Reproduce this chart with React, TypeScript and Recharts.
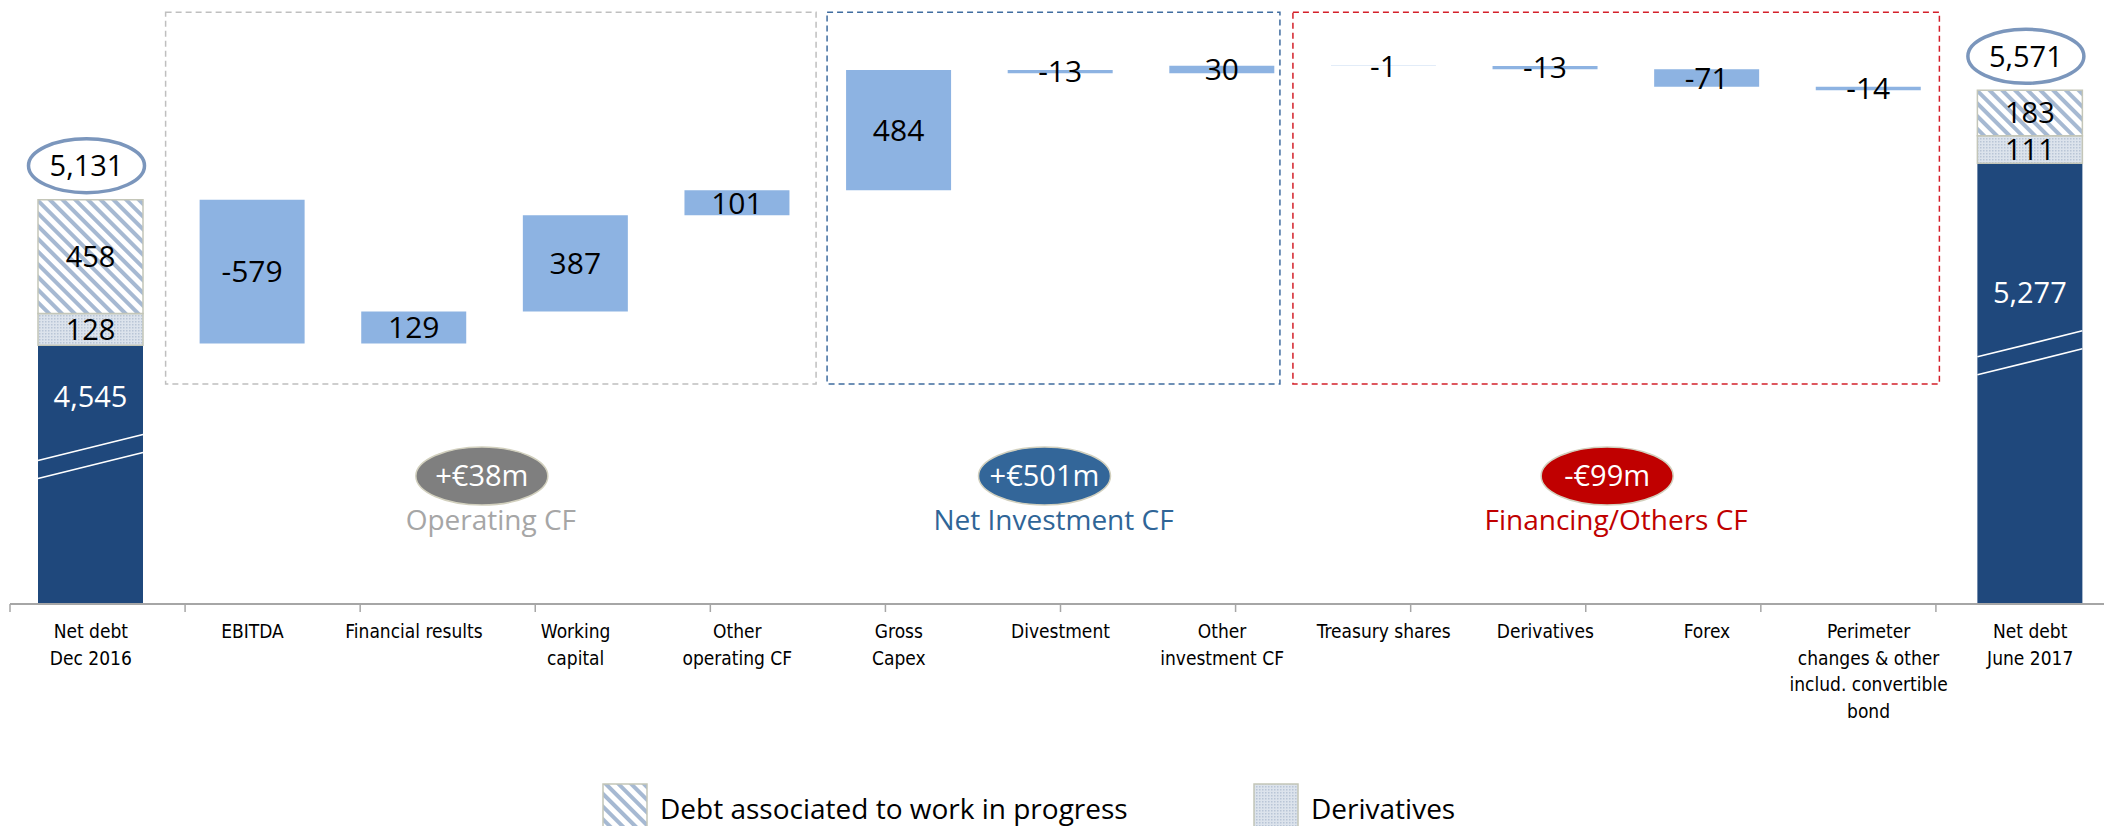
import React from 'react';
import { BarChart, Bar, XAxis, YAxis, ReferenceArea, LabelList, Legend } from 'recharts';

// ---------- data ----------
const categories = [
  'Net debt\nDec 2016',
  'EBITDA',
  'Financial results',
  'Working\ncapital',
  'Other\noperating CF',
  'Gross\nCapex',
  'Divestment',
  'Other\ninvestment CF',
  'Treasury shares',
  'Derivatives',
  'Forex',
  'Perimeter\nchanges & other\ninclud. convertible\nbond',
  'Net debt\nJune 2017',
];
const changes = [null, -579, 129, 387, 101, 484, -13, 30, -1, -13, -71, -14, null];
const coreDebt = [4545, null, null, null, null, null, null, null, null, null, null, null, 5277];
const derivativesDebt = [128, null, null, null, null, null, null, null, null, null, null, null, 111];
const wipDebt = [458, null, null, null, null, null, null, null, null, null, null, null, 183];
const totals = [5131, null, null, null, null, null, null, null, null, null, null, null, 5571];

const groupRanges = [
  [1, 4],
  [5, 7],
  [8, 11],
];
const groupBadges = ['+€38m', '+€501m', '-€99m'];
const groupTitles = ['Operating CF', 'Net Investment CF', 'Financing/Others CF'];

const seriesNames = {
  wip: 'Debt associated to work in progress',
  deriv: 'Derivatives',
};

// ---------- layout / style constants ----------
const Y_MIN = 3504;
const Y_MAX = 5894;
const FRAME_TOP = 5885;
const FRAME_BOTTOM = 4389;
const PLOT_BOTTOM = 604;
const LABEL_FONT = "'Open Sans', 'Noto Sans', sans-serif";
const AXIS_FONT = "'DejaVu Sans Condensed', 'DejaVu Sans', sans-serif";

const groupStyles = [
  { frame: '#BFBFBF', badge: '#7F7F7F', title: '#A6A6A6', insetL: -6, insetR: 2 },
  { frame: '#3F6C9F', badge: '#336699', title: '#2F6597', insetL: 9, insetR: 23 },
  { frame: '#D4202A', badge: '#C00000', title: '#C00000', insetL: -10, insetR: 10 },
];

const fmt = (v: number) => v.toLocaleString('en-US');

// ---------- build waterfall rows ----------
let running = totals[0] as number;
const data = categories.map((name, i) => {
  const c = changes[i];
  if (c == null) {
    return {
      name,
      base: 0,
      step: 0,
      change: null,
      dark: coreDebt[i] ?? 0,
      deriv: derivativesDebt[i] ?? 0,
      wip: wipDebt[i] ?? 0,
      total: totals[i],
    };
  }
  const lo = Math.min(running, running + c);
  const hi = Math.max(running, running + c);
  running += c;
  return { name, base: lo, step: hi - lo, change: c, dark: 0, deriv: 0, wip: 0, total: null };
});

// ---------- custom renderers ----------
const vbOf = (p: any) => {
  const vb = p.viewBox && p.viewBox.width != null ? p.viewBox : p;
  return { x: +vb.x, y: +vb.y, width: +vb.width, height: +vb.height };
};

const CatTick = (props: any) => {
  const { x, y, payload } = props;
  const lines = String(payload.value).split('\n');
  return (
    <text
      x={x}
      y={y}
      textAnchor="middle"
      fontFamily={AXIS_FONT}
      style={{ fontStretch: 'condensed' }}
      fontSize={19}
      fill="#000"
    >
      {lines.map((l, i) => (
        <tspan key={i} x={x} dy={i === 0 ? 33 : 26.5}>
          {l}
        </tspan>
      ))}
    </text>
  );
};

const EmptyTick = () => null;

const StepLabel = (props: any) => {
  const { value } = props;
  if (value == null) return null;
  const { x, y, width, height } = vbOf(props);
  return (
    <text
      x={x + width / 2}
      y={y + height / 2 + 30 * 0.36}
      textAnchor="middle"
      fontFamily={LABEL_FONT}
      fontSize={30}
      fill="#000"
    >
      {String(value)}
    </text>
  );
};

const SegLabel = (props: any) => {
  const { value } = props;
  if (!value) return null;
  const { x, y, width, height } = vbOf(props);
  return (
    <text
      x={x + width / 2}
      y={y + height / 2 + 29 * 0.36}
      textAnchor="middle"
      fontFamily={LABEL_FONT}
      fontSize={29}
      fill="#000"
    >
      {fmt(value)}
    </text>
  );
};

const TotalLabel = (props: any) => {
  const { value } = props;
  if (value == null) return null;
  const { x, y, width } = vbOf(props);
  const cx = x + width / 2 - 4;
  const cy = y - 34;
  return (
    <g>
      <ellipse cx={cx} cy={cy} rx={58} ry={27} fill="#fff" stroke="#7B96BC" strokeWidth={3.5} />
      <text x={cx} y={cy + 29 * 0.36} textAnchor="middle" fontFamily={LABEL_FONT} fontSize={29} fill="#000">
        {fmt(value)}
      </text>
    </g>
  );
};

const DarkShape = (props: any) => {
  const { x, y, width, height, fill, payload, background } = props;
  if (!payload || !payload.dark || !(height > 0)) return null;
  const bottom = background && background.height ? background.y + background.height : Math.min(y + height, PLOT_BOTTOM);
  const h = bottom - y;
  const bc = bottom - 0.57 * h;
  return (
    <g>
      <rect x={x} y={y} width={width} height={h} fill={fill} />
      <line x1={x} y1={bc - 9 + 13} x2={x + width} y2={bc - 9 - 13} stroke="#fff" strokeWidth={1.6} />
      <line x1={x} y1={bc + 9 + 13} x2={x + width} y2={bc + 9 - 13} stroke="#fff" strokeWidth={1.6} />
      <text
        x={x + width / 2}
        y={bc - 60 + 29 * 0.36}
        textAnchor="middle"
        fontFamily={LABEL_FONT}
        fontSize={29}
        fill="#fff"
      >
        {fmt(payload.dark)}
      </text>
    </g>
  );
};

const makeGroupShape = (gi: number) => (props: any) => {
  const { x, y, width, height } = props;
  const s = groupStyles[gi];
  const fx = x + s.insetL;
  const fw = width - s.insetL - s.insetR;
  const cx = fx + fw / 2;
  const bottom = y + height;
  return (
    <g>
      <rect
        x={fx}
        y={y}
        width={fw}
        height={height}
        fill="none"
        stroke={s.frame}
        strokeWidth={1.5}
        strokeDasharray="6 4"
      />
      <ellipse cx={cx - 9} cy={bottom + 92} rx={66} ry={29} fill={s.badge} stroke="#D2D0BE" strokeWidth={1.5} />
      <text
        x={cx - 9}
        y={bottom + 92 + 29 * 0.36}
        textAnchor="middle"
        fontFamily={LABEL_FONT}
        fontSize={29}
        fill="#fff"
      >
        {groupBadges[gi]}
      </text>
      <text x={cx} y={bottom + 146} textAnchor="middle" fontFamily={LABEL_FONT} fontSize={28} fill={s.title}>
        {groupTitles[gi]}
      </text>
    </g>
  );
};

const LEGEND_X = [602, 1253];

const LegendContent = (props: any) => {
  const items = (props.payload || []).filter((p: any) => p.dataKey === 'wip' || p.dataKey === 'deriv');
  items.sort((a: any, b: any) => (a.dataKey === 'wip' ? -1 : 1) - (b.dataKey === 'wip' ? -1 : 1));
  return (
    <div style={{ position: 'relative', width: 2104, height: 60 }}>
      {items.map((it: any, i: number) => (
        <div key={it.dataKey} style={{ position: 'absolute', left: LEGEND_X[i], top: 0, display: 'flex' }}>
          <svg width={46} height={50} style={{ display: 'block' }}>
            <defs>
              <pattern
                id={`lg-hatch-${i}`}
                patternUnits="userSpaceOnUse"
                width="9"
                height="9"
                patternTransform="rotate(-45)"
              >
                <rect width="9" height="9" fill="#fff" />
                <rect width="4" height="9" fill="#A6B9D2" />
              </pattern>
              <pattern id={`lg-dots-${i}`} patternUnits="userSpaceOnUse" width="3" height="3">
                <rect width="3" height="3" fill="#DCE3EC" />
                <rect width="1.5" height="1.5" fill="#B9C5D6" />
              </pattern>
            </defs>
            <rect
              x={1}
              y={1}
              width={44}
              height={60}
              fill={it.dataKey === 'wip' ? `url(#lg-hatch-${i})` : `url(#lg-dots-${i})`}
              stroke="#C4C6B8"
              strokeWidth={1.5}
            />
          </svg>
          <span
            style={{
              marginLeft: 12,
              marginTop: 11,
              fontFamily: LABEL_FONT,
              fontSize: 28,
              lineHeight: '28px',
              color: '#000',
              whiteSpace: 'nowrap',
            }}
          >
            {it.value}
          </span>
        </div>
      ))}
    </div>
  );
};

export default function App() {
  return (
    <div
      style={{
        position: 'absolute',
        left: 0,
        top: 0,
        width: 2104,
        height: 826,
        overflow: 'hidden',
        background: '#fff',
      }}
    >
      <BarChart
        width={2112}
        height={826}
        data={data}
        margin={{ top: 10, right: 1, left: 10, bottom: 81 }}
        barSize={105}
      >
        <defs>
          <pattern id="hatch" patternUnits="userSpaceOnUse" width="9" height="9" patternTransform="rotate(-45)">
            <rect width="9" height="9" fill="#fff" />
            <rect width="4" height="9" fill="#A6B9D2" />
          </pattern>
          <pattern id="dots" patternUnits="userSpaceOnUse" width="3" height="3">
            <rect width="3" height="3" fill="#DCE3EC" />
            <rect width="1.5" height="1.5" fill="#B9C5D6" />
          </pattern>
        </defs>
        <XAxis
          xAxisId="b"
          type="number"
          domain={[0, categories.length]}
          ticks={categories.map((_, i) => i).concat([categories.length])}
          interval={0}
          allowDataOverflow
          tick={EmptyTick}
          tickSize={8}
          tickLine={{ stroke: '#A6A6A6', strokeWidth: 1.5 }}
          axisLine={{ stroke: '#A6A6A6', strokeWidth: 2 }}
          height={1}
        />
        <XAxis
          xAxisId="cat"
          dataKey="name"
          type="category"
          interval={0}
          axisLine={false}
          tickLine={false}
          tickSize={0}
          tickMargin={0}
          height={140}
          tick={<CatTick />}
        />
        <YAxis hide type="number" domain={[Y_MIN, Y_MAX]} allowDataOverflow />
        {groupRanges.map(([a, b], gi) => (
          <ReferenceArea
            key={gi}
            xAxisId="cat"
            x1={categories[a]}
            x2={categories[b]}
            y1={FRAME_BOTTOM}
            y2={FRAME_TOP}
            ifOverflow="visible"
            shape={makeGroupShape(gi)}
          />
        ))}
        <Bar xAxisId="cat" dataKey="base" stackId="s" fill="transparent" legendType="none" isAnimationActive={false} />
        <Bar xAxisId="cat" dataKey="step" stackId="s" fill="#8DB3E2" legendType="none" isAnimationActive={false}>
          <LabelList dataKey="change" content={StepLabel} />
        </Bar>
        <Bar
          xAxisId="cat"
          dataKey="dark"
          stackId="s"
          fill="#1F487C"
          legendType="none"
          shape={DarkShape}
          isAnimationActive={false}
        />
        <Bar
          xAxisId="cat"
          dataKey="deriv"
          name={seriesNames.deriv}
          stackId="s"
          fill="url(#dots)"
          stroke="#C4C6B8"
          strokeWidth={1.5}
          isAnimationActive={false}
        >
          <LabelList dataKey="deriv" content={SegLabel} />
        </Bar>
        <Bar
          xAxisId="cat"
          dataKey="wip"
          name={seriesNames.wip}
          stackId="s"
          fill="url(#hatch)"
          stroke="#C4C6B8"
          strokeWidth={1.5}
          isAnimationActive={false}
        >
          <LabelList dataKey="wip" content={SegLabel} />
          <LabelList dataKey="total" content={TotalLabel} />
        </Bar>
        <Legend
          verticalAlign="middle"
          align="center"
          layout="horizontal"
          wrapperStyle={{ top: 783, left: 0, width: 2104, height: 60 }}
          content={LegendContent}
        />
      </BarChart>
    </div>
  );
}
